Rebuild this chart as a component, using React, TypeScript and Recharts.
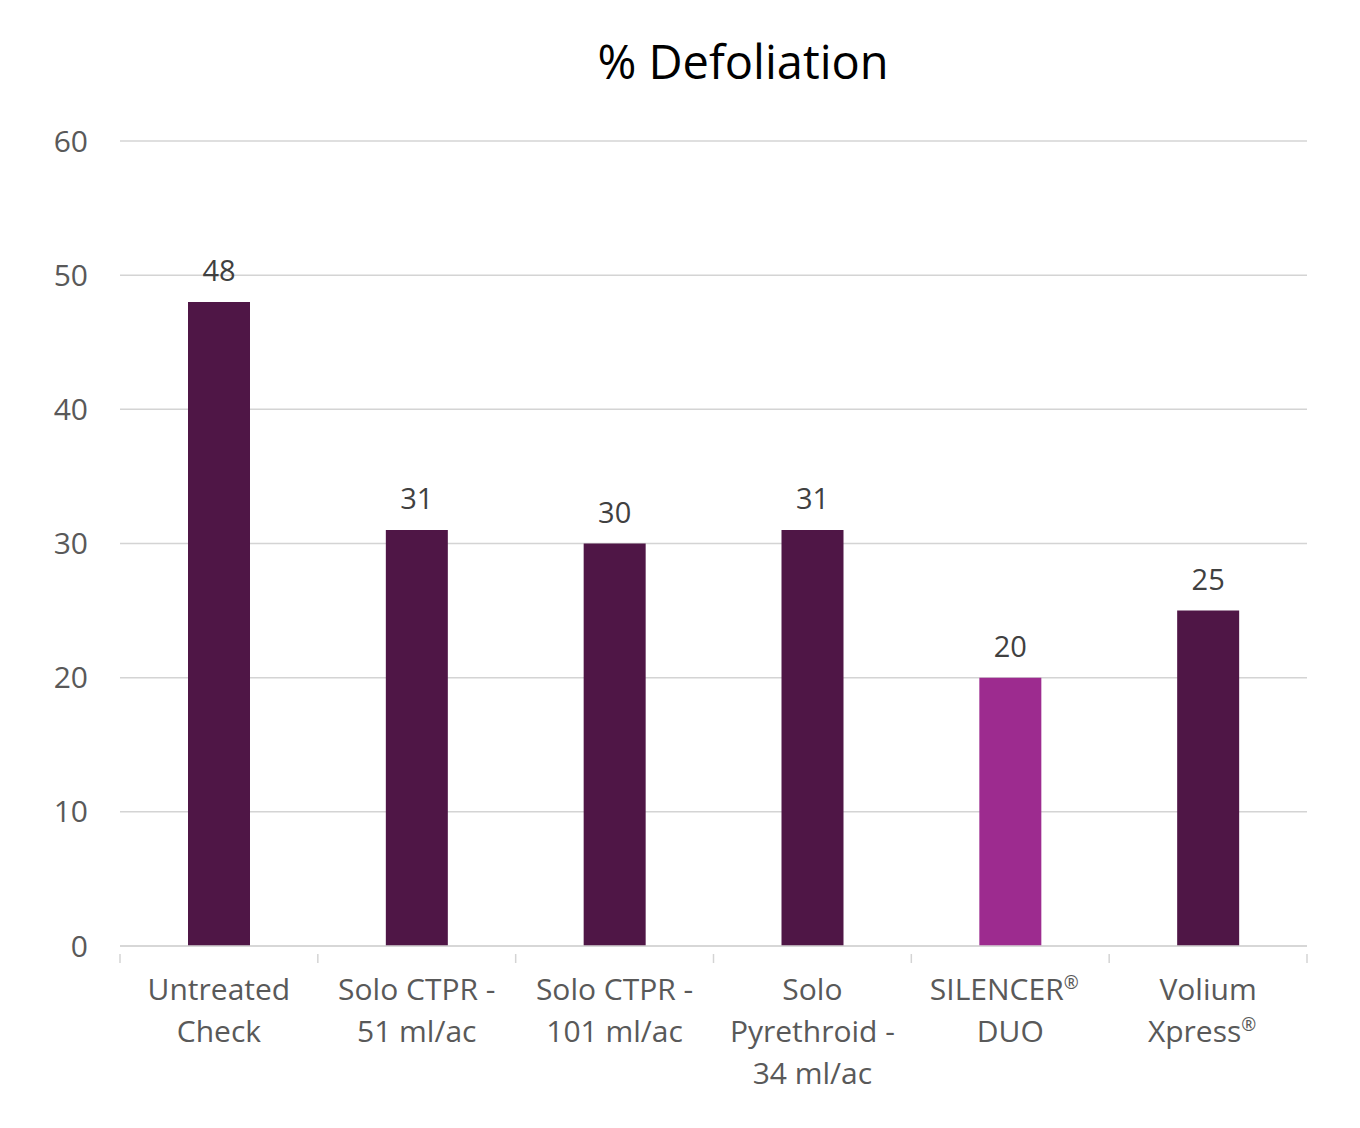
import { BarChart, Bar, XAxis, YAxis, CartesianGrid, Cell, LabelList } from "recharts"

const CATEGORIES = [
  "Untreated\nCheck",
  "Solo CTPR -\n51 ml/ac",
  "Solo CTPR -\n101 ml/ac",
  "Solo\nPyrethroid -\n34 ml/ac",
  "SILENCER®\nDUO",
  "Volium\nXpress®",
]
const DEFOLIATION = [48, 31, 30, 31, 20, 25]
const HIGHLIGHT = [false, false, false, false, true, false]
const Y_TICKS = [0, 10, 20, 30, 40, 50, 60]

const FONT = "'Open Sans', 'Liberation Sans', Arial, sans-serif"
const DARK = "#4F1646"
const MAGENTA = "#9D2B8F"
const GRID = "#D4D4D4"

const W = 1360
const H = 1128
const PLOT_LEFT = 120
const PLOT_RIGHT = 1307
const BAND = (PLOT_RIGHT - PLOT_LEFT) / CATEGORIES.length

const data = CATEGORIES.map((c, i) => ({ name: c, value: DEFOLIATION[i], hi: HIGHLIGHT[i] }))

// draws one label line; a ® is drawn small and raised
function renderLine(line: string, x: number, y: number, key: number) {
  if (!line.includes("®")) {
    return (
      <tspan key={key} x={x} y={y}>
        {line}
      </tspan>
    )
  }
  const base = line.replace("®", "")
  return [
    <tspan key={key + "a"} x={x - 6} y={y}>
      {base}
    </tspan>,
    <tspan key={key + "b"} fontSize={18} dy={-11}>
      ®
    </tspan>,
  ]
}

function CategoryTick(props: any) {
  const { x, y, payload, index } = props
  const lines = String(payload.value).split("\n")
  const left = x - BAND / 2
  return (
    <g>
      <line x1={left} x2={left} y1={y} y2={y + 9} stroke={GRID} strokeWidth={1.5} />
      {index === CATEGORIES.length - 1 && (
        <line x1={left + BAND} x2={left + BAND} y1={y} y2={y + 9} stroke={GRID} strokeWidth={1.5} />
      )}
      <text x={x} y={y} textAnchor="middle" fill="#595959" fontSize={30} fontFamily={FONT}>
        {lines.map((l, i) => renderLine(l, x, y + 46 + 42 * i, i))}
      </text>
    </g>
  )
}

function ValueLabel(props: any) {
  const { x, y, width, value } = props
  return (
    <text x={x + width / 2} y={y - 21} textAnchor="middle" fill="#404040" fontSize={29} fontFamily={FONT}>
      {value}
    </text>
  )
}

export default function App() {
  return (
    <div style={{ position: "absolute", left: 0, top: 0, width: W, height: H, background: "#fff" }}>
      <div
        style={{
          position: "absolute",
          left: 0,
          top: 32,
          width: W,
          paddingLeft: 126,
          boxSizing: "border-box",
          textAlign: "center",
          fontFamily: FONT,
          fontSize: 47,
          color: "#000",
          lineHeight: "58px",
        }}
      >
        % Defoliation
      </div>
      <BarChart
        width={W}
        height={H}
        data={data}
        margin={{ top: 141, right: W - PLOT_RIGHT, bottom: 0, left: 0 }}
      >
        <CartesianGrid vertical={false} stroke={GRID} strokeWidth={1.5} />
        <XAxis
          dataKey="name"
          interval={0}
          axisLine={{ stroke: GRID, strokeWidth: 1.5 }}
          tickLine={false}
          tick={<CategoryTick />}
          height={H - 946}
        />
        <YAxis
          width={PLOT_LEFT}
          domain={[0, 60]}
          ticks={Y_TICKS}
          axisLine={false}
          tickLine={false}
          tickSize={0}
          tickMargin={32}
          tick={{ fill: "#595959", fontSize: 30, fontFamily: FONT }}
        />
        <Bar dataKey="value" barSize={62} isAnimationActive={false}>
          {data.map((d, i) => (
            <Cell key={i} fill={d.hi ? MAGENTA : DARK} />
          ))}
          <LabelList dataKey="value" content={<ValueLabel />} />
        </Bar>
      </BarChart>
    </div>
  )
}
